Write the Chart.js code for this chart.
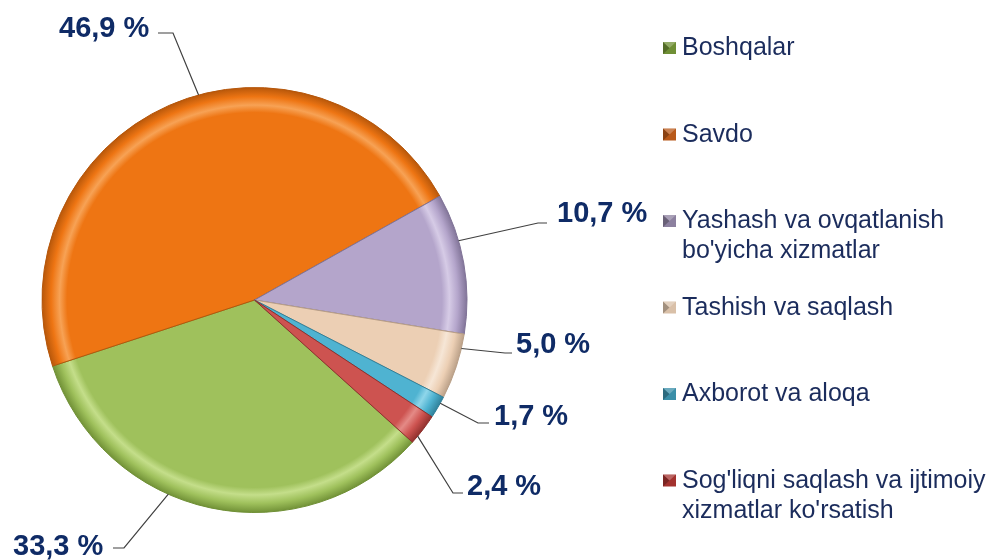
<!DOCTYPE html>
<html>
<head>
<meta charset="utf-8">
<script src="https://cdn.jsdelivr.net/npm/chart.js@4.4.1/dist/chart.umd.min.js"></script>
<style>
    body { margin: 0; background: #ffffff; }
    #wrap { width: 1004px; height: 560px; }
</style>
</head>
<body>
<div id="wrap"><canvas id="pieChart" width="1004" height="560"></canvas></div>
<script>
// data
const categories = [
    ['Boshqalar'],
    ['Savdo'],
    ['Yashash va ovqatlanish', "bo'yicha xizmatlar"],
    ['Tashish va saqlash'],
    ['Axborot va aloqa'],
    ["Sog'liqni saqlash va ijtimoiy", "xizmatlar ko'rsatish"]
];
const shares = [33.3, 46.9, 10.7, 5.0, 1.7, 2.4];

// styles
const sliceColors = ['#9fc15c', '#ee7513', '#b4a5cb', '#eccfb4', '#4fb3d1', '#cd5350'];
const sliceLight  = ['#c4de8a', '#f7a255', '#d6cbe6', '#f6e6d6', '#8fd6ea', '#e48a86'];
const sliceDark   = ['#6f8f35', '#b5560a', '#7f7296', '#b89e86', '#2f7f98', '#8e2f2c'];
const markerColors = ['#6f8f35', '#b8591a', '#8c809f', '#d9c0a8', '#3a8ea8', '#a3322f'];

// label placement: where along the slice the leader starts (0..1),
// text x / baseline, elbow of leader line, end of horizontal stub
const labelPos = [
    { af: 0.60, tx: 13,  ty: 555, ex: 124, ey: 548, hx: 113 },
    { af: 0.55, tx: 59,  ty: 37,  ex: 173, ey: 33,  hx: 158 },
    { af: 0.34, tx: 557, ty: 222, ex: 538, ey: 223, hx: 547 },
    { af: 0.22, tx: 516, ty: 353, ex: 505, ey: 353, hx: 512 },
    { af: 0.30, tx: 494, ty: 425, ex: 478, ey: 423, hx: 489 },
    { af: 0.75, tx: 467, ty: 495, ex: 453, ey: 493, hx: 463 }
];

const textFont = '"Liberation Sans", Arial, sans-serif';

function sliceFill(c) {
    const chart = c.chart;
    const area = chart.chartArea;
    const i = c.dataIndex;
    if (!area) return sliceColors[i];
    const cx = (area.left + area.right) / 2;
    const cy = (area.top + area.bottom) / 2;
    const r = Math.min(area.width, area.height) / 2;
    const g = chart.ctx.createRadialGradient(cx, cy, 0, cx, cy, r);
    g.addColorStop(0, sliceColors[i]);
    g.addColorStop(0.88, sliceColors[i]);
    g.addColorStop(0.915, sliceLight[i]);
    g.addColorStop(0.955, sliceColors[i]);
    g.addColorStop(1, sliceDark[i]);
    return g;
}

const labelPlugin = {
    id: 'pctLabels',
    afterDatasetsDraw(chart) {
        const ctx = chart.ctx;
        const meta = chart.getDatasetMeta(0);
        ctx.save();
        meta.data.forEach((arc, i) => {
            const p = arc.getProps(['x', 'y', 'startAngle', 'endAngle', 'outerRadius'], true);
            const lp = labelPos[i];
            const a = p.startAngle + (p.endAngle - p.startAngle) * lp.af;
            const sx = p.x + Math.cos(a) * p.outerRadius;
            const sy = p.y + Math.sin(a) * p.outerRadius;
            ctx.strokeStyle = '#404040';
            ctx.lineWidth = 1.2;
            ctx.beginPath();
            ctx.moveTo(sx, sy);
            ctx.lineTo(lp.ex, lp.ey);
            ctx.lineTo(lp.hx, lp.ey);
            ctx.stroke();
            ctx.fillStyle = '#0f2b66';
            ctx.font = 'bold 29px ' + textFont;
            ctx.textAlign = 'left';
            ctx.textBaseline = 'alphabetic';
            ctx.fillText(shares[i].toFixed(1).replace('.', ',') + ' %', lp.tx, lp.ty);
        });
        ctx.restore();
    }
};

const legendPlugin = {
    id: 'sideLegend',
    afterDraw(chart) {
        const ctx = chart.ctx;
        ctx.save();
        chart.data.labels.forEach((lines, i) => {
            const base = 55 + i * 86.5;
            const mx = 663, my = base - 13, ms = 13;
            ctx.fillStyle = markerColors[i];
            ctx.fillRect(mx, my, ms, 12);
            // little pyramid shading
            ctx.fillStyle = 'rgba(0,0,0,0.25)';
            ctx.beginPath();
            ctx.moveTo(mx, my); ctx.lineTo(mx + ms / 2, my + 6); ctx.lineTo(mx, my + 12);
            ctx.closePath(); ctx.fill();
            ctx.fillStyle = 'rgba(255,255,255,0.25)';
            ctx.beginPath();
            ctx.moveTo(mx, my); ctx.lineTo(mx + ms / 2, my + 6); ctx.lineTo(mx + ms, my);
            ctx.closePath(); ctx.fill();
            ctx.fillStyle = '#1b2c5c';
            ctx.font = '25px ' + textFont;
            ctx.textAlign = 'left';
            ctx.textBaseline = 'alphabetic';
            lines.forEach((t, k) => ctx.fillText(t, 682, base + k * 30));
        });
        ctx.restore();
    }
};

new Chart(document.getElementById('pieChart'), {
    type: 'pie',
    data: {
        labels: categories,
        datasets: [{
            data: shares,
            backgroundColor: sliceFill,
            borderColor: sliceDark,
            borderWidth: 1
        }]
    },
    options: {
        responsive: false,
        animation: false,
        rotation: 132,
        layout: { padding: { left: 41, top: 87, right: 536, bottom: 47 } },
        plugins: {
            legend: { display: false },
            tooltip: { enabled: false }
        }
    },
    plugins: [labelPlugin, legendPlugin]
});
</script>
</body>
</html>
